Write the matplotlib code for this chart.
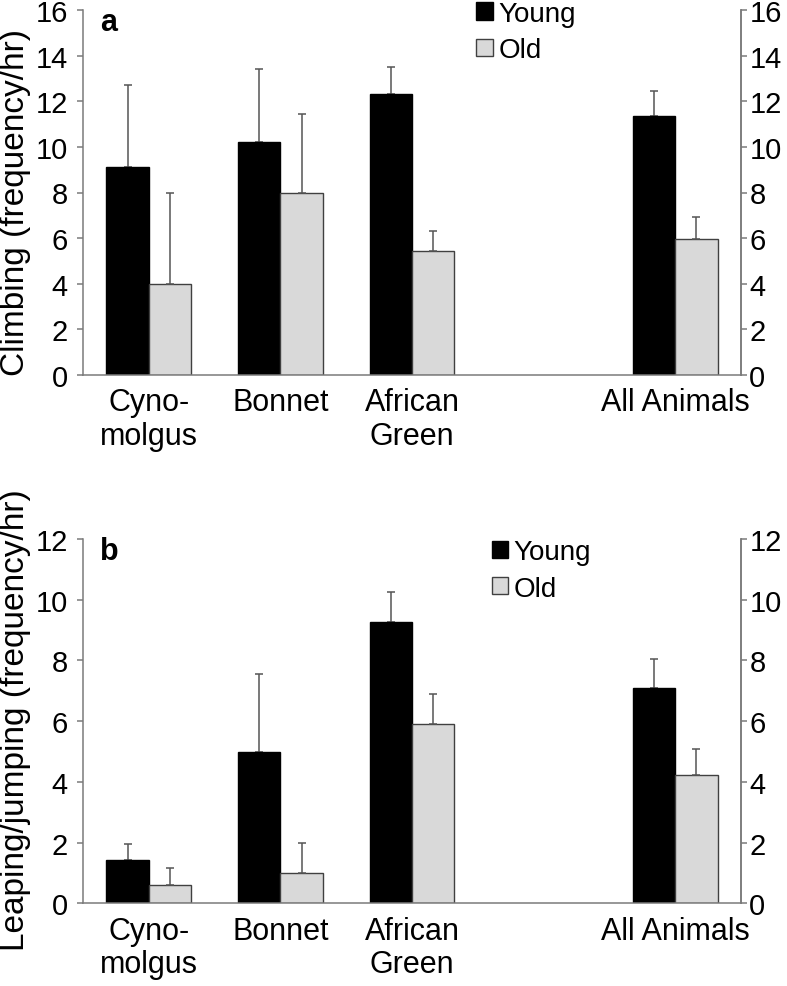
import numpy as np
import matplotlib
matplotlib.use("Agg")
import matplotlib.pyplot as plt
from matplotlib.patches import Patch

plt.rcParams['font.family'] = ['Liberation Sans', 'DejaVu Sans']

categories = ["Cyno-\nmolgus", "Bonnet", "African\nGreen", "", "All Animals"]
series = ["Young", "Old"]

climb_young = [9.1, 10.2, 12.3, np.nan, 11.35]
climb_young_err = [3.6, 3.2, 1.2, np.nan, 1.1]
climb_old = [4.0, 8.0, 5.45, np.nan, 5.95]
climb_old_err = [4.0, 3.45, 0.88, np.nan, 0.98]

leap_young = [1.44, 5.0, 9.28, np.nan, 7.08]
leap_young_err = [0.51, 2.55, 0.97, np.nan, 0.98]
leap_old = [0.6, 1.0, 5.92, np.nan, 4.23]
leap_old_err = [0.57, 0.99, 0.99, np.nan, 0.86]

climb_ticks = [0, 2, 4, 6, 8, 10, 12, 14, 16]
leap_ticks = [0, 2, 4, 6, 8, 10, 12]

W, H = 787, 987
fig = plt.figure(figsize=(W / 100, H / 100), dpi=100)

SPINE = '#7a7a7a'
ERR = '#555555'
OLDFACE = '#d9d9d9'
OLDEDGE = '#404040'
bw = 0.3215


def panel(rect, young, yerr, old, oerr, ticks, ylabel, letter, leg_anchor, label_y):
    ax = fig.add_axes(rect)
    x = np.arange(len(categories))
    y = np.array(young, float)
    o = np.array(old, float)
    ye = np.array(yerr, float)
    oe = np.array(oerr, float)
    m = ~np.isnan(y)
    ax.bar(x[m] - bw / 2, y[m], width=bw, color='black', edgecolor='black',
           linewidth=1.0, zorder=2)
    ax.bar(x[m] + bw / 2, o[m], width=bw, color=OLDFACE, edgecolor=OLDEDGE,
           linewidth=1.0, zorder=2)
    ax.errorbar(x[m] - bw / 2, y[m], yerr=[np.zeros(m.sum()), ye[m]], fmt='none',
                ecolor=ERR, elinewidth=1.1, capsize=2.6, capthick=1.1, zorder=1)
    ax.errorbar(x[m] + bw / 2, o[m], yerr=[np.zeros(m.sum()), oe[m]], fmt='none',
                ecolor=ERR, elinewidth=1.1, capsize=2.6, capthick=1.1, zorder=3)
    ax.set_xlim(-0.5, len(categories) - 0.5)
    ax.set_ylim(ticks[0], ticks[-1])
    ax.set_xticks(x)
    ax.set_xticklabels(categories, fontsize=22, linespacing=1.15)
    ax.tick_params(axis='x', length=0, pad=9)
    ax.set_yticks(ticks)
    ax.tick_params(axis='y', direction='out', length=4.5, width=1.1, color=SPINE,
                   labelsize=21, pad=6.5)
    ax.spines['top'].set_visible(False)
    for s in ['left', 'right', 'bottom']:
        ax.spines[s].set_color(SPINE)
        ax.spines[s].set_linewidth(1.1)
    ax2 = ax.twinx()
    ax2.set_ylim(ticks[0], ticks[-1])
    ax2.set_yticks(ticks)
    ax2.tick_params(axis='y', direction='out', length=4.5, width=1.1, color=SPINE,
                    labelsize=21, pad=1.5)
    for s in ['top', 'left', 'bottom']:
        ax2.spines[s].set_visible(False)
    ax2.spines['right'].set_color(SPINE)
    ax2.spines['right'].set_linewidth(1.1)
    ax.set_ylabel(ylabel, fontsize=24)
    ax.yaxis.set_label_coords(-0.079, label_y)
    ax.text(0.026, 0.945, letter, transform=ax.transAxes, fontsize=22,
            fontweight='bold', va='baseline', ha='left')
    handles = [Patch(facecolor='black', edgecolor='black', linewidth=1.0),
               Patch(facecolor=OLDFACE, edgecolor=OLDEDGE, linewidth=1.0)]
    ax.legend(handles, series, loc='upper left', bbox_to_anchor=leg_anchor,
              frameon=False, fontsize=20, handlelength=0.58, handleheight=0.58,
              handletextpad=0.22, labelspacing=0.38, borderpad=0, borderaxespad=0)
    return ax


panel([83 / W, 1 - 376 / H, 658 / W, 365 / H], climb_young, climb_young_err,
      climb_old, climb_old_err, climb_ticks, "Climbing (frequency/hr)", "a",
      (0.598, 1.025), 0.475)
panel([83 / W, 1 - 904.3 / H, 658 / W, 364.3 / H], leap_young, leap_young_err,
      leap_old, leap_old_err, leap_ticks, "Leaping/jumping (frequency/hr)", "b",
      (0.621, 1.0), 0.505)

fig.savefig("out.png", dpi=100)
